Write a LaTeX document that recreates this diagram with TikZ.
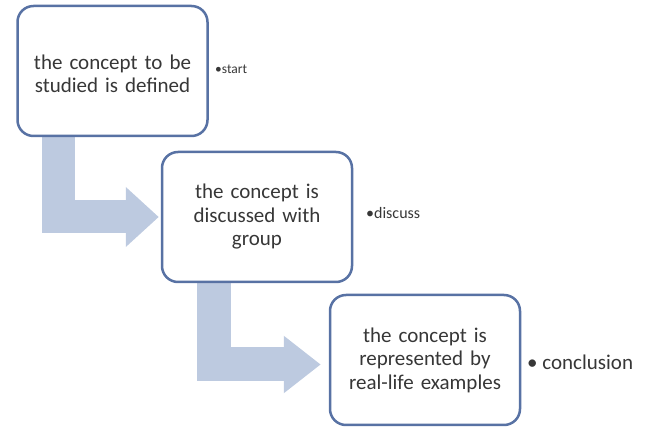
\documentclass[tikz,border=0pt]{standalone}
\usepackage{fontspec}
\setmainfont{Carlito}
\usetikzlibrary{arrows.meta,backgrounds}
\definecolor{boxline}{RGB}{88,114,164}
\definecolor{arrowfill}{RGB}{189,202,224}
\definecolor{txt}{RGB}{55,55,55}
\tikzset{
  stage/.style={draw=boxline, line width=2.5pt, fill=white, rounded corners=16pt,
    minimum width=190pt, minimum height=130pt, text width=180pt, align=center,
    text=txt, font=\fontsize{21}{23.5}\selectfont, inner sep=0pt},
  flow/.style={draw=arrowfill, line cap=butt, line join=miter},
  note/.style={anchor=west, text=txt, inner sep=0pt}
}
\begin{document}
\begin{tikzpicture}[x=1pt,y=-1pt]
\useasboundingbox (0,0) rectangle (656,427);
\node[stage] (b1) at (112.5,71) {\raisebox{-3pt}[\height][\depth]{\parbox{180pt}{\centering the concept to be\\studied is defined}}};
\node[stage] (b2) at (257,217) {the concept is\\discussed with\\group};
\node[stage] (b3) at (425,360) {the concept is\\represented by\\real-life examples};
\node[note, font=\fontsize{13.5}{15}\selectfont] (l1) at (215,69) {•start};
\node[note, font=\fontsize{16}{18}\selectfont] (l2) at (366,213) {•discuss};
\node[note, font=\fontsize{21}{24}\selectfont] (l3) at (527,362) {• conclusion};
\begin{scope}[on background layer]
\draw[flow, line width=33pt, -{Triangle[length=33pt,width=58pt,fill=arrowfill]}, shorten >=2pt]
  ([xshift=-54pt]b1.south) |- (b2.west);
\draw[flow, line width=34pt, -{Triangle[length=37pt,width=55pt,fill=arrowfill]}, shorten >=8pt]
  ([xshift=-43pt]b2.south) |- ([yshift=-4.5pt]b3.west);
\end{scope}
\end{tikzpicture}
\end{document}
